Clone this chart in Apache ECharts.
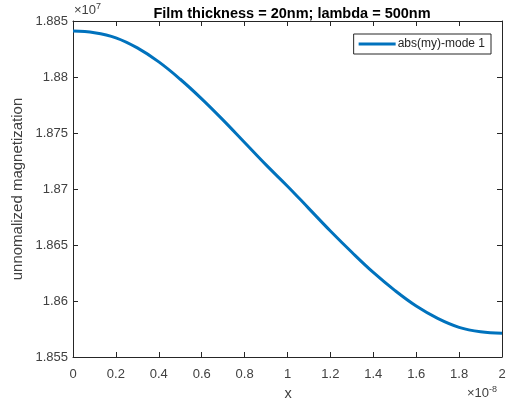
<!DOCTYPE html>
<html>
<head>
<meta charset="utf-8">
<script src="https://cdn.jsdelivr.net/npm/echarts@6/dist/echarts.min.js"></script>
<style>html,body{margin:0;padding:0;background:#fff}#c{width:510px;height:408px}</style>
</head>
<body>
<div id="c"></div>
<script>
// x in units of 1e-8, y in units of 1e7
var xValues = [0, 0.1, 0.2, 0.3, 0.4, 0.5, 0.6, 0.7, 0.8, 0.9, 1.0, 1.1, 1.2, 1.3, 1.4, 1.5, 1.6, 1.7, 1.8, 1.9, 2.0];
var yValues = [1.88410, 1.88395, 1.88350, 1.88260, 1.88135, 1.87980, 1.87805, 1.87615, 1.87415, 1.87215, 1.87025, 1.86825, 1.86625, 1.86435, 1.86255, 1.86095, 1.85955, 1.85845, 1.85765, 1.85725, 1.85712];
var seriesName = 'abs(my)-mode 1';
var titleText = 'Film thickness = 20nm; lambda = 500nm';
var xLabel = 'x';
var yLabel = 'unnomalized magnetization';
var yExponent = '7';
var xExponent = '-8';

var FONT = 'Liberation Sans, Arial, Helvetica, sans-serif';
var AX = '#262626';
var TXT = '#404040';

var chart = echarts.init(document.getElementById('c'), null, {renderer: 'canvas'});
var data = xValues.map(function (x, i) { return [x, yValues[i]]; });

function fmt(v) { return String(parseFloat(Number(v).toFixed(4))); }
function axLine() { return {show: true, onZero: false, lineStyle: {color: AX, width: 1}}; }
function axTick() { return {show: true, inside: true, length: 5, lineStyle: {color: AX, width: 1}}; }

chart.setOption({
  animation: false,
  backgroundColor: '#fff',
  title: {
    text: titleText, left: 287, top: 1, textAlign: 'center',
    textStyle: {fontFamily: FONT, fontSize: 14.5, fontWeight: 'bold', color: '#000'}
  },
  legend: {
    data: [seriesName], right: 19, top: 34, orient: 'vertical',
    backgroundColor: '#fff', borderColor: AX, borderWidth: 1, borderRadius: 0,
    padding: [4, 6, 4, 5], itemWidth: 37, itemHeight: 3, itemGap: 0,
    icon: 'rect',
    textStyle: {fontFamily: FONT, fontSize: 12, color: '#262626', padding: [0, 0, 0, -3]}
  },
  grid: {left: 73, right: 8, top: 21, bottom: 51, containLabel: false},
  xAxis: [{
    type: 'value', min: 0, max: 2, interval: 0.2, position: 'bottom',
    axisLine: axLine(), axisTick: axTick(), splitLine: {show: false},
    axisLabel: {fontFamily: FONT, fontSize: 13, color: TXT, margin: 11, formatter: fmt}
  }, {
    type: 'value', min: 0, max: 2, interval: 0.2, position: 'top',
    axisLine: axLine(), axisTick: axTick(), splitLine: {show: false}, axisLabel: {show: false}
  }],
  yAxis: [{
    type: 'value', min: 1.855, max: 1.885, interval: 0.005, position: 'left',
    axisLine: axLine(), axisTick: axTick(), splitLine: {show: false},
    axisLabel: {fontFamily: FONT, fontSize: 13, color: TXT, margin: 5, formatter: fmt}
  }, {
    type: 'value', min: 1.855, max: 1.885, interval: 0.005, position: 'right',
    axisLine: axLine(), axisTick: axTick(), splitLine: {show: false}, axisLabel: {show: false}
  }],
  series: [{
    name: seriesName, type: 'line', data: data, smooth: 0.4,
    showSymbol: false, symbol: 'none',
    lineStyle: {color: '#0072BD', width: 3}, itemStyle: {color: '#0072BD'}
  }],
  graphic: [
    {type: 'text', left: 74, top: 2, style: {
      text: '×10{s|' + yExponent + '}', fontFamily: FONT, fontSize: 13, fill: TXT,
      rich: {s: {fontFamily: FONT, fontSize: 9, fill: TXT, verticalAlign: 'top', padding: [0, 0, 7, 0]}}
    }},
    {type: 'text', left: 467, top: 385, style: {
      text: '×10{s|' + xExponent + '}', fontFamily: FONT, fontSize: 13, fill: TXT,
      rich: {s: {fontFamily: FONT, fontSize: 9, fill: TXT, verticalAlign: 'top', padding: [0, 0, 7, 0]}}
    }},
    {type: 'text', x: 288, y: 394, style: {
      text: xLabel, fontFamily: FONT, fontSize: 14.5, fill: TXT, align: 'center', verticalAlign: 'middle'
    }},
    {type: 'text', x: 18, y: 189, rotation: Math.PI / 2, style: {
      text: yLabel, fontFamily: FONT, fontSize: 15, fill: TXT, align: 'center', verticalAlign: 'middle'
    }}
  ]
});
</script>
</body>
</html>
